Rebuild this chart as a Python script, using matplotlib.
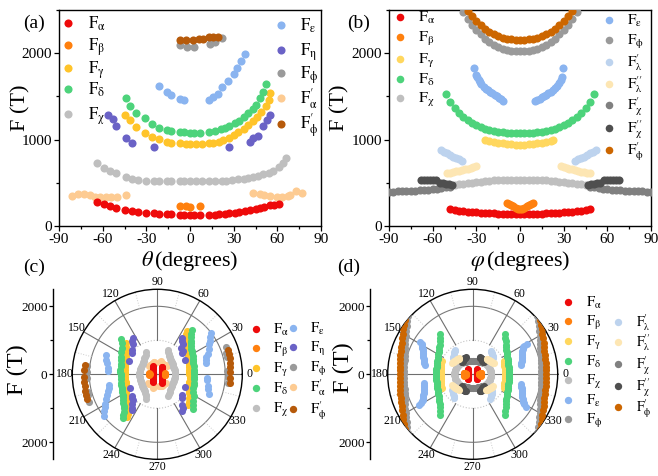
import numpy as np
import matplotlib
matplotlib.use('Agg')
import matplotlib.pyplot as plt
from matplotlib.ticker import MultipleLocator, FixedLocator

plt.rcParams['font.family'] = ['Liberation Serif', 'DejaVu Serif']
plt.rcParams['mathtext.fontset'] = 'stix'
plt.rcParams['axes.unicode_minus'] = False

# ---- panel (a): F vs theta ----
th_alpha = [-64, -59, -55, -51, -45, -40, -36, -30, -25, -21, -16, -13, -7, -4, 0, 3, 7,
            13, 17, 20, 24, 27, 31, 34, 38, 41, 45, 48, 51, 55, 58, 61]
F_alpha = [282, 255, 232, 205, 185, 178, 160, 154, 147, 140, 136, 135, 127, 127, 127, 124, 127,
           131, 131, 135, 139, 147, 154, 162, 174, 185, 193, 205, 224, 239, 247, 255]
th_beta = [-7, -3, 0, 7]
F_beta = [235, 232, 224, 232]
th_gamma = [-45, -41, -37, -31, -26, -21, -16, -13, -7, -3, 0, 4, 8,
            13, 16, 20, 23, 27, 30, 33, 37, 40, 43, 46, 49, 52, 54, 55]
F_gamma = [1286, 1228, 1151, 1073, 1035, 1004, 977, 965, 958, 950, 946, 946, 950,
           958, 965, 977, 996, 1023, 1054, 1085, 1120, 1166, 1212, 1267, 1324, 1390, 1460, 1545]
th_delta = [-44, -41, -37, -31, -26, -21, -16, -13, -7, -4, 0, 3, 7,
            13, 17, 21, 24, 27, 31, 34, 37, 40, 43, 45, 48, 50, 52]
F_delta = [1479, 1390, 1305, 1247, 1181, 1139, 1112, 1104, 1093, 1085, 1081, 1081, 1081,
           1093, 1104, 1120, 1139, 1162, 1189, 1220, 1259, 1305, 1351, 1402, 1479, 1556, 1645]
th_chi = [-64, -59, -55, -51, -44, -40, -36, -30, -25, -21, -16, -13, -7, -4, 0, 4, 8,
          13, 17, 22, 25, 29, 33, 37, 40, 43, 47, 50, 54, 57, 61, 64, 66]
F_chi = [726, 668, 637, 610, 564, 548, 533, 525, 521, 521, 521, 521, 525, 525, 525, 525, 525,
         525, 525, 525, 525, 533, 541, 548, 560, 571, 583, 598, 618, 641, 680, 726, 790]
th_eps = [-21, -16, -13, -7, -4, 13, 16, 19, 22, 26, 30, 32, 35, 38]
F_eps = [1622, 1556, 1517, 1467, 1459, 1459, 1490, 1525, 1606, 1683, 1761, 1826, 1904, 1988]
th_eta = [-56, -53, -51, -44, -40, -25, 27, 41, 43, 47, 50, 53, 55]
F_eta = [1286, 1236, 1158, 1015, 965, 911, 911, 977, 1015, 1042, 1158, 1228, 1286]
th_phi = [-7, -2, 3, 14, 17, 22]
F_phi = [2097, 2077, 2066, 2104, 2124, 2174]
th_alpha_p = [-81, -77, -73, -69, -65, -62, -58, -54, -50, -44,
              43, 48, 51, 55, 60, 63, 67, 69, 73, 77]
F_alpha_p = [351, 367, 371, 359, 340, 340, 332, 340, 340, 359,
             378, 367, 355, 344, 340, 340, 344, 355, 409, 386]
th_phi_p = [-7, -3, 2, 6, 9, 13, 16, 19]
F_phi_p = [2154, 2154, 2147, 2162, 2162, 2185, 2193, 2193]

# ---- panel (b): F vs phi ----
ph_alpha = [-48, -45, -42, -39, -36, -33, -30, -27, -24, -21, -18, -15, -12, -9, -6, -3, 0,
            3, 6, 9, 12, 15, 18, 21, 24, 27, 30, 33, 36, 39, 42, 45, 48]
Fb_alpha = [193, 185, 178, 172, 166, 161, 157, 153, 150, 147, 145, 143, 141, 140, 139, 138, 138,
            138, 139, 140, 141, 143, 145, 147, 150, 153, 157, 161, 166, 172, 178, 185, 193]
ph_beta = [-9, -7.5, -6, -4.5, -3, -1.5, 0, 1.5, 3, 4.5, 6, 7.5, 9]
Fb_beta = [262, 252, 240, 226, 212, 200, 193, 200, 212, 226, 240, 252, 262]
ph_gamma = [-24, -21, -18, -15, -12, -9, -6, -3, 0, 3, 6, 9, 12, 15, 18, 21, 23]
Fb_gamma = [996, 985, 975, 965, 957, 950, 945, 942, 940, 942, 945, 950, 957, 965, 975, 985, 994]
ph_delta = [-51, -48, -45, -42, -39, -36, -33, -30, -27, -24, -21, -18, -15, -12, -9, -6, -3, 0,
            3, 6, 9, 12, 15, 18, 21, 24, 27, 30, 33, 36, 39, 42, 45, 48, 51]
Fb_delta = [1530, 1440, 1365, 1305, 1260, 1225, 1195, 1170, 1145, 1125, 1110, 1098, 1090, 1083,
            1078, 1075, 1073, 1072, 1073, 1075, 1078, 1083, 1090, 1098, 1110, 1125, 1145, 1170,
            1195, 1225, 1260, 1305, 1365, 1440, 1530]
ph_chi = [-45, -42, -39, -36, -33, -30, -27, -24, -21, -18, -15, -12, -9, -6, -3, 0,
          3, 6, 9, 12, 15, 18, 21, 24, 27, 30, 33, 36, 39, 42, 45]
Fb_chi = [477, 483, 489, 495, 501, 507, 513, 518, 523, 527, 530, 533, 535, 536, 537, 537,
          537, 536, 535, 533, 530, 527, 523, 518, 513, 507, 501, 495, 489, 483, 477]
ph_eps = [-31.5, -30.5, -29.5, -28.5, -27.5, -26.5, -25, -23.5, -22, -20.5, -19, -17.5, -16,
          -14.5, -13, -11.5, 10.5, 12, 13.5, 15, 16.5, 18, 19.5, 21, 22.5, 24, 25.5, 27, 28, 29, 29.5]
Fb_eps = [1826, 1745, 1720, 1690, 1665, 1640, 1612, 1590, 1570, 1550, 1535, 1515, 1500,
          1482, 1465, 1445, 1445, 1460, 1475, 1490, 1505, 1520, 1535, 1550, 1570, 1595, 1620,
          1650, 1690, 1730, 1826]
ph_phi = [-42, -39, -36, -33, -30, -27, -24, -21, -18, -15, -12, -9, -6, -3, 0,
          3, 6, 9, 12, 15, 18, 21, 24, 27, 30, 33, 36, 39, 42]
Fb_phi = [2560, 2480, 2400, 2330, 2270, 2220, 2170, 2125, 2095, 2070, 2050, 2038, 2028, 2022, 2020,
          2022, 2028, 2038, 2050, 2070, 2095, 2125, 2170, 2220, 2270, 2330, 2400, 2480, 2560]
ph_lam_p = [-54, -52, -50, -48, -46, -44, -42, -40, 38, 40, 42, 44, 46, 48, 50, 52]
Fb_lam_p = [880, 860, 840, 820, 800, 785, 770, 758, 758, 770, 785, 800, 820, 840, 860, 880]
ph_lam_pp = [-50, -48, -46, -44, -42, -40, -38, -36, -34, -32, -30,
             28, 30, 32, 34, 36, 38, 40, 42, 44, 46, 48]
Fb_lam_pp = [612, 618, 625, 632, 640, 648, 656, 664, 672, 682, 694,
             694, 684, 674, 665, 656, 647, 638, 630, 622, 615, 608]
ph_chi_p = [-90, -87, -84, -81, -78, -75, -72, -69, -66, -63, -60, -57, -54, -51, -48,
            48, 51, 54, 57, 60, 63, 66, 69, 72, 75, 78, 81, 84, 87, 90]
Fb_chi_p = [398, 399, 400, 402, 404, 406, 409, 412, 416, 421, 427, 434, 441, 448, 455,
            455, 448, 441, 434, 427, 421, 416, 412, 409, 406, 404, 402, 400, 399, 398]
ph_chi_pp = [-68, -66, -64, -62, -60, -58, -55, -53, -51, -49, -47,
             47, 49, 51, 53, 55, 58, 60, 62, 64, 66, 68]
Fb_chi_pp = [535, 536, 535, 533, 532, 530, 495, 492, 488, 484, 480,
             480, 484, 488, 492, 495, 530, 532, 533, 535, 536, 535]
ph_phi_p = [-39, -36, -33, -30, -27, -24, -21, -18, -15, -12, -9, -6, -3, 0,
            3, 6, 9, 12, 15, 18, 21, 24, 27, 30, 33, 36, 39]
Fb_phi_p = [2560, 2490, 2430, 2370, 2325, 2285, 2250, 2220, 2200, 2180, 2168, 2160, 2154, 2152,
            2154, 2160, 2168, 2180, 2200, 2220, 2250, 2285, 2325, 2370, 2430, 2490, 2560]

# colours
c_alpha = '#ee0a0a'
c_beta = '#ff800e'
c_gamma = '#ffc42a'
c_gamma_b = '#ffd75e'
c_delta = '#4dd37b'
c_chi = '#bfbfbf'
c_eps = '#8ab4f0'
c_eta = '#6a62c6'
c_phi = '#9a9a9a'
c_alpha_p = '#fdcb92'
c_phi_p = '#b65a0a'
c_phi_p_b = '#cc6600'
c_lam_p = '#bdd3ee'
c_lam_pp = '#fde6b3'
c_chi_p = '#808080'
c_chi_pp = '#4f4f4f'

# series lists in drawing order: (x, y, colour)
series_a = [
    (th_alpha_p, F_alpha_p, c_alpha_p), (th_alpha, F_alpha, c_alpha), (th_beta, F_beta, c_beta),
    (th_chi, F_chi, c_chi), (th_gamma, F_gamma, c_gamma), (th_delta, F_delta, c_delta),
    (th_eta, F_eta, c_eta), (th_eps, F_eps, c_eps), (th_phi, F_phi, c_phi),
    (th_phi_p, F_phi_p, c_phi_p),
]
series_b = [
    (ph_chi_p, Fb_chi_p, c_chi_p), (ph_chi, Fb_chi, c_chi), (ph_chi_pp, Fb_chi_pp, c_chi_pp),
    (ph_lam_p, Fb_lam_p, c_lam_p), (ph_lam_pp, Fb_lam_pp, c_lam_pp),
    (ph_alpha, Fb_alpha, c_alpha), (ph_beta, Fb_beta, c_beta),
    (ph_gamma, Fb_gamma, c_gamma_b), (ph_delta, Fb_delta, c_delta), (ph_eps, Fb_eps, c_eps),
    (ph_phi, Fb_phi, c_phi), (ph_phi_p, Fb_phi_p, c_phi_p_b),
]

W, H = 658, 476
fig = plt.figure(figsize=(W / 100, H / 100), dpi=100)


def box(x0, y0, x1, y1):
    # pixel box (top-left origin) -> figure fraction
    return [x0 / W, 1 - y1 / H, (x1 - x0) / W, (y1 - y0) / H]


def cart_axes(rect):
    ax = fig.add_axes(rect)
    ax.set_xlim(-90, 90)
    ax.set_ylim(0, 2500)
    ax.xaxis.set_major_locator(MultipleLocator(30))
    ax.xaxis.set_minor_locator(MultipleLocator(15))
    ax.yaxis.set_major_locator(MultipleLocator(1000))
    ax.yaxis.set_minor_locator(MultipleLocator(500))
    ax.tick_params(which='both', direction='out', labelsize=11, width=0.9)
    ax.tick_params(which='major', length=3.5, pad=1.5)
    ax.tick_params(which='minor', length=2)
    for s in ax.spines.values():
        s.set_linewidth(1.0)
    return ax


ax_a = cart_axes(box(59, 10, 321, 226))
for x, y, c in series_a:
    ax_a.scatter(x, y, s=34, color=c, linewidths=0, zorder=3)

ax_b = cart_axes(box(389, 10, 651, 226))
for x, y, c in series_b:
    ax_b.scatter(x, y, s=34, color=c, linewidths=0, zorder=3)


def polar_axes(cx, cy, lin_x):
    r_px = 85
    ax = fig.add_axes(box(cx - r_px, cy - r_px, cx + r_px, cy + r_px), projection='polar')
    ax.set_ylim(0, 2500)
    ax.set_yticks([])
    ax.set_xticks(np.radians(np.arange(0, 360, 30)))
    ax.set_xticklabels([str(a) for a in range(0, 360, 30)])
    ax.tick_params(axis='x', labelsize=8.5, pad=-5)
    ax.grid(False)
    ax.spines['polar'].set_linewidth(1.0)
    t = np.radians(np.arange(0, 361, 1))
    ax.plot(t, [2000] * len(t), color='#7a7a7a', lw=0.8, zorder=1)
    ax.plot(t, [1000] * len(t), color='#c4c4c4', lw=0.8, ls=':', zorder=1)
    for a in range(0, 360, 30):
        r0 = 0 if a % 180 == 0 else 1000
        ax.plot([np.radians(a)] * 2, [r0, 2500], color='#6e6e6e', lw=0.8, zorder=1)
    for a in range(15, 360, 30):
        ax.plot([np.radians(a)] * 2, [2000, 2500], color='#cccccc', lw=0.7, ls=':', zorder=1)
    # companion linear F axis on the left
    la = fig.add_axes(box(lin_x, cy - r_px, lin_x + 2, cy + r_px))
    la.set_ylim(-2500, 2500)
    la.patch.set_visible(False)
    for s in ['top', 'right', 'bottom']:
        la.spines[s].set_visible(False)
    la.spines['left'].set_linewidth(1.0)
    la.set_xticks([])
    la.set_yticks([-2000, 0, 2000])
    la.set_yticklabels(['2000', '0', '2000'])
    la.yaxis.set_minor_locator(FixedLocator([-1000, 1000]))
    la.tick_params(which='both', direction='out', labelsize=9.5, width=0.9)
    la.tick_params(which='major', length=3, pad=1)
    la.tick_params(which='minor', length=2)
    return ax


ax_c = polar_axes(157.3, 374.3, 53)
for x, y, c in series_a:
    ang = np.radians(np.concatenate([x, np.array(x) + 180]))
    ax_c.scatter(ang, np.concatenate([y, y]), s=26, color=c, linewidths=0, zorder=3)

ax_d = polar_axes(472.7, 374.3, 370)
for x, y, c in series_b:
    ang = np.radians(np.concatenate([x, np.array(x) + 180]))
    ax_d.scatter(ang, np.concatenate([y, y]), s=26, color=c, linewidths=0, zorder=3)

# ---- texts and legends on a pixel overlay ----
ov = fig.add_axes([0, 0, 1, 1], zorder=10)
ov.set_xlim(0, W)
ov.set_ylim(H, 0)
ov.axis('off')

for lbl, x, y in [('(a)', 34, 23), ('(b)', 359, 23), ('(c)', 34, 267), ('(d)', 349, 267)]:
    ov.text(x, y, lbl, fontsize=14, ha='center', va='center')

for x in (21, 340):
    ov.text(x, 108, 'F (T)', fontsize=16, rotation=90, ha='center', va='center')
ov.text(17, 370, 'F (T)', fontsize=17.5, rotation=90, ha='center', va='center')
ov.text(343, 368, 'F (T)', fontsize=17.5, rotation=90, ha='center', va='center')
ov.text(190, 261, r'$\theta\,$(degrees)', fontsize=16, ha='center', va='center')
ov.text(520, 261, r'$\varphi\,$(degrees)', fontsize=16, ha='center', va='center')

L = {
    'alpha': r'$\mathrm{F_{\alpha}}$', 'beta': r'$\mathrm{F_{\beta}}$',
    'gamma': r'$\mathrm{F_{\gamma}}$', 'delta': r'$\mathrm{F_{\delta}}$',
    'chi': r'$\mathrm{F_{\chi}}$', 'eps': r'$\mathrm{F_{\varepsilon}}$',
    'eta': r'$\mathrm{F_{\eta}}$', 'phi': r'$\mathrm{F_{\phi}}$',
    'alpha_p': r'$\mathrm{F_{\alpha}^{\prime}}$', 'phi_p': r'$\mathrm{F_{\phi}^{\prime}}$',
    'lam_p': r'$\mathrm{F_{\lambda}^{\prime}}$', 'lam_pp': r'$\mathrm{F_{\lambda}^{\prime\prime}}$',
    'chi_p': r'$\mathrm{F_{\chi}^{\prime}}$', 'chi_pp': r'$\mathrm{F_{\chi}^{\prime\prime}}$',
}


def legend_col(mx, tx, rows, items, fs, ms):
    for y, (key, c) in zip(rows, items):
        ov.scatter([mx], [y], s=ms, color=c, linewidths=0)
        ov.text(tx, y + fs * 0.45, L[key], fontsize=fs, ha='left', va='baseline')


leg_a1 = [('alpha', c_alpha), ('beta', c_beta), ('gamma', c_gamma), ('delta', c_delta), ('chi', c_chi)]
leg_a2 = [('eps', c_eps), ('eta', c_eta), ('phi', c_phi), ('alpha_p', c_alpha_p), ('phi_p', c_phi_p)]
leg_b1 = [('alpha', c_alpha), ('beta', c_beta), ('gamma', c_gamma_b), ('delta', c_delta), ('chi', c_chi)]
leg_b2 = [('eps', c_eps), ('phi', c_phi), ('lam_p', c_lam_p), ('lam_pp', c_lam_pp),
          ('chi_p', c_chi_p), ('chi_pp', c_chi_pp), ('phi_p', c_phi_p_b)]
leg_d1 = leg_b1 + [('eps', c_eps), ('phi', c_phi)]
leg_d2 = [('lam_p', c_lam_p), ('lam_pp', c_lam_pp), ('chi_p', c_chi_p), ('chi_pp', c_chi_pp),
          ('phi_p', c_phi_p_b)]

legend_col(68, 88, [23, 45, 68, 89, 114], leg_a1, 12, 34)
legend_col(281, 300, [25, 50, 73, 98, 124], leg_a2, 12, 34)
legend_col(400, 418, [17, 37, 59, 79, 98], leg_b1, 11.5, 30)
legend_col(609, 627, [20, 40, 62, 84, 105, 128, 150], leg_b2, 11, 30)
legend_col(256, 273, [329, 348, 368, 388, 408], leg_a1, 10.5, 28)
legend_col(293, 310, [328, 347, 367, 387, 409], leg_a2, 10.5, 28)
legend_col(568, 586, [302, 321, 341, 361, 380, 400, 419], leg_d1, 10.5, 28)
legend_col(618, 636, [322, 342, 364, 386, 407], leg_d2, 10, 28)

fig.savefig('out.png', dpi=100)
